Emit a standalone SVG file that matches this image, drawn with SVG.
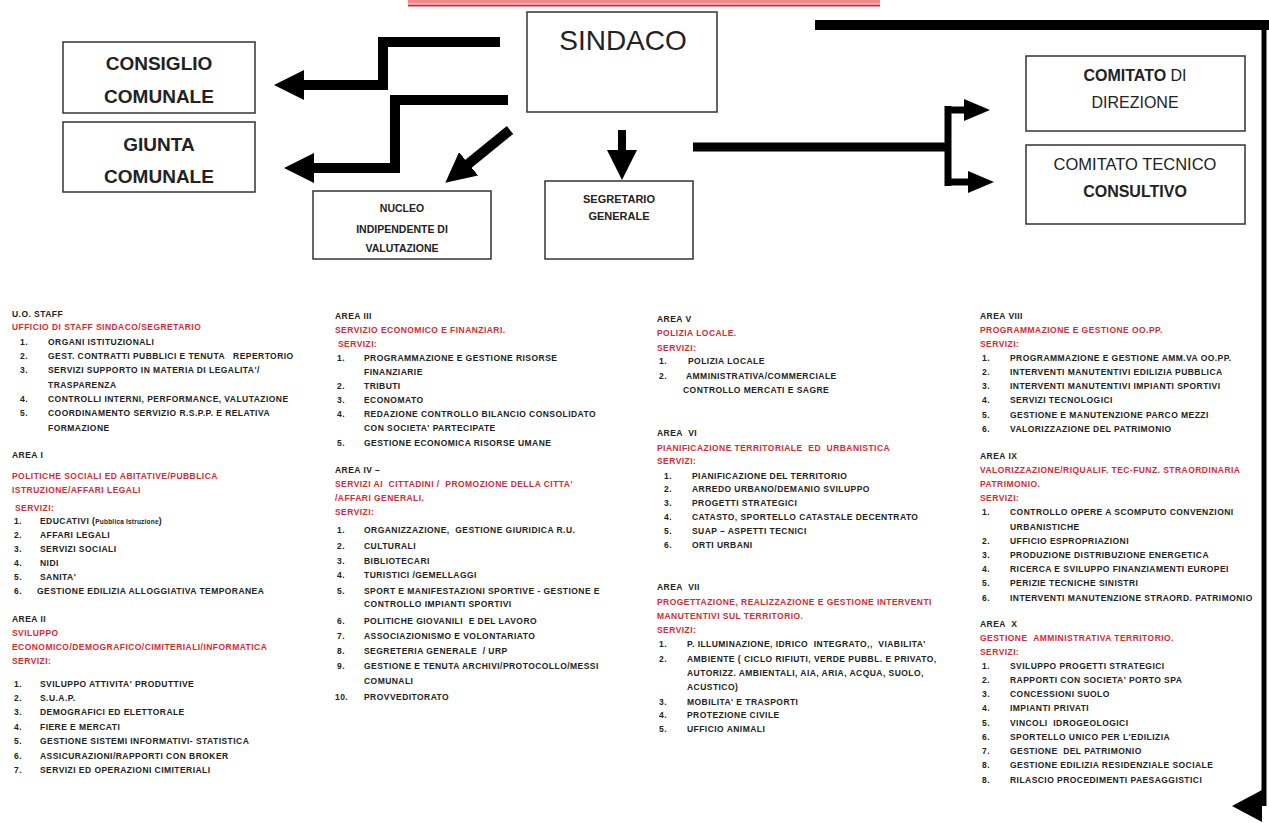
<svg xmlns="http://www.w3.org/2000/svg" width="1269" height="823" viewBox="0 0 1269 823">
<style>
.box{fill:#fff;stroke:#333;stroke-width:1.5}
.big{font-family:"Liberation Sans",Arial,sans-serif;fill:#222}
.t{font-family:"Liberation Sans",Arial,sans-serif;font-weight:bold;font-size:8.5px;letter-spacing:0.45px;fill:#222}
.r{fill:#e3262e}
.ln{fill:none;stroke:#000;stroke-linejoin:miter}
</style>
<defs>
<marker id="ah" markerUnits="userSpaceOnUse" viewBox="0 0 30 30" markerWidth="30" markerHeight="30" refX="2" refY="15" orient="auto">
<path d="M0,0 L30,15 L0,30 z" fill="#000"/>
</marker>
<marker id="ahs" markerUnits="userSpaceOnUse" viewBox="0 0 26 22" markerWidth="26" markerHeight="22" refX="2" refY="11" orient="auto">
<path d="M0,0 L26,11 L0,22 z" fill="#000"/>
</marker>
</defs>
<rect width="1269" height="823" fill="#fff"/>

<g id="title">
<rect x="408" y="0" width="472" height="3.5" fill="#e3262e" opacity="0.55"/>
<line x1="408" y1="5.5" x2="880" y2="5.5" stroke="#e3262e" stroke-width="2"/>
</g>

<g id="connectors">
<polyline class="ln" stroke-width="10" points="500,42 383,42 383,85 302,85" marker-end="url(#ah)"/>
<polyline class="ln" stroke-width="10" points="508,100 395,100 395,168 312,168" marker-end="url(#ah)"/>
<line class="ln" stroke-width="10" x1="510" y1="130" x2="467" y2="165" marker-end="url(#ah)"/>
<line class="ln" stroke-width="8" x1="622" y1="130" x2="622" y2="152" marker-end="url(#ah)"/>
<line class="ln" stroke-width="9" x1="693" y1="147" x2="950" y2="147"/>
<line class="ln" stroke-width="7" x1="948" y1="106" x2="948" y2="186"/>
<polyline class="ln" stroke-width="7" points="945,110 966,110" marker-end="url(#ahs)"/>
<polyline class="ln" stroke-width="7" points="945,182 970,182" marker-end="url(#ahs)"/>
<line class="ln" stroke-width="10" x1="815" y1="25" x2="1269" y2="25"/>
<line class="ln" stroke-width="5" x1="1264" y1="20" x2="1264" y2="806"/>
<polygon points="1232,806 1262,790 1262,822" fill="#000"/>
</g>

<g id="sindaco">
<rect class="box" x="527" y="12" width="190" height="100"/>
<text class="big" x="623" y="50" font-size="28" text-anchor="middle">SINDACO</text>
</g>
<g id="consiglio">
<rect class="box" x="63" y="42" width="192" height="71"/>
<text class="big" x="159" y="70" font-size="19" font-weight="bold" text-anchor="middle">CONSIGLIO</text>
<text class="big" x="159" y="103" font-size="19" font-weight="bold" text-anchor="middle">COMUNALE</text>
</g>
<g id="giunta">
<rect class="box" x="63" y="122" width="192" height="70"/>
<text class="big" x="159" y="151" font-size="19" font-weight="bold" text-anchor="middle">GIUNTA</text>
<text class="big" x="159" y="183" font-size="19" font-weight="bold" text-anchor="middle">COMUNALE</text>
</g>
<g id="nucleo">
<rect class="box" x="313" y="191" width="178" height="68"/>
<text class="big" x="402" y="212" font-size="10.5" font-weight="bold" text-anchor="middle">NUCLEO</text>
<text class="big" x="402" y="233" font-size="10.5" font-weight="bold" text-anchor="middle">INDIPENDENTE DI</text>
<text class="big" x="402" y="252" font-size="10.5" font-weight="bold" text-anchor="middle">VALUTAZIONE</text>
</g>
<g id="segretario">
<rect class="box" x="545" y="181" width="148" height="78"/>
<text class="big" x="619" y="203" font-size="11" font-weight="bold" text-anchor="middle">SEGRETARIO</text>
<text class="big" x="619" y="220" font-size="11" font-weight="bold" text-anchor="middle">GENERALE</text>
</g>
<g id="comitato-direzione">
<rect class="box" x="1026" y="56" width="219" height="75"/>
<text class="big" x="1135" y="81" font-size="16" text-anchor="middle"><tspan font-weight="bold">COMITATO</tspan> DI</text>
<text class="big" x="1135" y="108" font-size="16" text-anchor="middle">DIREZIONE</text>
</g>
<g id="comitato-tecnico">
<rect class="box" x="1026" y="145" width="219" height="79"/>
<text class="big" x="1135" y="170" font-size="16.5" text-anchor="middle">COMITATO TECNICO</text>
<text class="big" x="1135" y="197" font-size="16" font-weight="bold" text-anchor="middle">CONSULTIVO</text>
</g>

<g id="uo-staff" class="t">
<text x="12" y="317">U.O. STAFF</text>
<text x="12" y="330" class="r">UFFICIO DI STAFF SINDACO/SEGRETARIO</text>
<text x="20" y="345">1.</text><text x="48" y="345">ORGANI ISTITUZIONALI</text>
<text x="20" y="359">2.</text><text x="48" y="359">GEST. CONTRATTI PUBBLICI E TENUTA &#160; REPERTORIO</text>
<text x="20" y="373">3.</text><text x="48" y="373">SERVIZI SUPPORTO IN MATERIA DI LEGALITA'/</text>
<text x="48" y="388">TRASPARENZA</text>
<text x="20" y="402">4.</text><text x="48" y="402">CONTROLLI INTERNI, PERFORMANCE, VALUTAZIONE</text>
<text x="20" y="416">5.</text><text x="48" y="416">COORDINAMENTO SERVIZIO R.S.P.P. E RELATIVA</text>
<text x="48" y="431">FORMAZIONE</text>
</g>
<g id="area-1" class="t">
<text x="12" y="458">AREA I</text>
<text x="12" y="479" class="r">POLITICHE SOCIALI ED ABITATIVE/PUBBLICA</text>
<text x="12" y="493" class="r">ISTRUZIONE/AFFARI LEGALI</text>
<text x="15" y="511" class="r">SERVIZI:</text>
<text x="14" y="524">1.</text><text x="40" y="524">EDUCATIVI (<tspan font-size="6.5" letter-spacing="0.2">Pubblica Istruzione</tspan>)</text>
<text x="14" y="538">2.</text><text x="40" y="538">AFFARI LEGALI</text>
<text x="14" y="552">3.</text><text x="40" y="552">SERVIZI SOCIALI</text>
<text x="14" y="566">4.</text><text x="40" y="566">NIDI</text>
<text x="14" y="580">5.</text><text x="40" y="580">SANITA'</text>
<text x="14" y="594">6.</text><text x="37" y="594">GESTIONE EDILIZIA ALLOGGIATIVA TEMPORANEA</text>
</g>
<g id="area-2" class="t">
<text x="12" y="622">AREA II</text>
<text x="12" y="636" class="r">SVILUPPO</text>
<text x="12" y="650" class="r">ECONOMICO/DEMOGRAFICO/CIMITERIALI/INFORMATICA</text>
<text x="12" y="664" class="r">SERVIZI:</text>
<text x="14" y="687">1.</text><text x="40" y="687">SVILUPPO ATTIVITA' PRODUTTIVE</text>
<text x="14" y="701">2.</text><text x="40" y="701">S.U.A.P.</text>
<text x="14" y="715">3.</text><text x="40" y="715">DEMOGRAFICI ED ELETTORALE</text>
<text x="14" y="730">4.</text><text x="40" y="730">FIERE E MERCATI</text>
<text x="14" y="744">5.</text><text x="40" y="744">GESTIONE SISTEMI INFORMATIVI- STATISTICA</text>
<text x="14" y="759">6.</text><text x="40" y="759">ASSICURAZIONI/RAPPORTI CON BROKER</text>
<text x="14" y="773">7.</text><text x="40" y="773">SERVIZI ED OPERAZIONI CIMITERIALI</text>
</g>

<g id="area-3" class="t">
<text x="335" y="319">AREA III</text>
<text x="335" y="333" class="r">SERVIZIO ECONOMICO E FINANZIARI.</text>
<text x="338" y="347" class="r">SERVIZI:</text>
<text x="337" y="361">1.</text><text x="364" y="361">PROGRAMMAZIONE E GESTIONE RISORSE</text>
<text x="364" y="375">FINANZIARIE</text>
<text x="337" y="389">2.</text><text x="364" y="389">TRIBUTI</text>
<text x="337" y="403">3.</text><text x="364" y="403">ECONOMATO</text>
<text x="337" y="417">4.</text><text x="364" y="417">REDAZIONE CONTROLLO BILANCIO CONSOLIDATO</text>
<text x="364" y="431">CON SOCIETA' PARTECIPATE</text>
<text x="337" y="446">5.</text><text x="364" y="446">GESTIONE ECONOMICA RISORSE UMANE</text>
</g>
<g id="area-4" class="t">
<text x="335" y="473">AREA IV –</text>
<text x="335" y="487" class="r">SERVIZI AI &#160;CITTADINI / &#160;PROMOZIONE DELLA CITTA'</text>
<text x="335" y="501" class="r">/AFFARI GENERALI.</text>
<text x="335" y="515" class="r">SERVIZI:</text>
<text x="337" y="533">1.</text><text x="364" y="533">ORGANIZZAZIONE, &#160;GESTIONE GIURIDICA R.U.</text>
<text x="337" y="549">2.</text><text x="364" y="549">CULTURALI</text>
<text x="337" y="564">3.</text><text x="364" y="564">BIBLIOTECARI</text>
<text x="337" y="578">4.</text><text x="364" y="578">TURISTICI /GEMELLAGGI</text>
<text x="337" y="594">5.</text><text x="364" y="594">SPORT E MANIFESTAZIONI SPORTIVE - GESTIONE E</text>
<text x="364" y="607">CONTROLLO IMPIANTI SPORTIVI</text>
<text x="337" y="624">6.</text><text x="364" y="624">POLITICHE GIOVANILI &#160;E DEL LAVORO</text>
<text x="337" y="639">7.</text><text x="364" y="639">ASSOCIAZIONISMO E VOLONTARIATO</text>
<text x="337" y="654">8.</text><text x="364" y="654">SEGRETERIA GENERALE &#160;/ URP</text>
<text x="337" y="669">9.</text><text x="364" y="669">GESTIONE E TENUTA ARCHIVI/PROTOCOLLO/MESSI</text>
<text x="364" y="684">COMUNALI</text>
<text x="335" y="700">10.</text><text x="364" y="700">PROVVEDITORATO</text>
</g>

<g id="area-5" class="t">
<text x="657" y="322">AREA V</text>
<text x="657" y="336" class="r">POLIZIA LOCALE.</text>
<text x="657" y="351" class="r">SERVIZI:</text>
<text x="659" y="364">1.</text><text x="688" y="364">POLIZIA LOCALE</text>
<text x="659" y="379">2.</text><text x="686" y="379">AMMINISTRATIVA/COMMERCIALE</text>
<text x="683" y="393">CONTROLLO MERCATI E SAGRE</text>
</g>
<g id="area-6" class="t">
<text x="657" y="436">AREA &#160;VI</text>
<text x="657" y="451" class="r">PIANIFICAZIONE TERRITORIALE &#160;ED &#160;URBANISTICA</text>
<text x="657" y="464" class="r">SERVIZI:</text>
<text x="664" y="479">1.</text><text x="692" y="479">PIANIFICAZIONE DEL TERRITORIO</text>
<text x="664" y="492">2.</text><text x="692" y="492">ARREDO URBANO/DEMANIO SVILUPPO</text>
<text x="664" y="506">3.</text><text x="692" y="506">PROGETTI STRATEGICI</text>
<text x="664" y="520">4.</text><text x="692" y="520">CATASTO, SPORTELLO CATASTALE DECENTRATO</text>
<text x="664" y="534">5.</text><text x="692" y="534">SUAP – ASPETTI TECNICI</text>
<text x="664" y="548">6.</text><text x="692" y="548">ORTI URBANI</text>
</g>
<g id="area-7" class="t">
<text x="657" y="590">AREA &#160;VII</text>
<text x="657" y="605" class="r">PROGETTAZIONE, REALIZZAZIONE E GESTIONE INTERVENTI</text>
<text x="657" y="619" class="r">MANUTENTIVI SUL TERRITORIO.</text>
<text x="657" y="633" class="r">SERVIZI:</text>
<text x="659" y="647">1.</text><text x="687" y="647">P. ILLUMINAZIONE, IDRICO &#160;INTEGRATO,, &#160;VIABILITA'</text>
<text x="659" y="662">2.</text><text x="687" y="662">AMBIENTE ( CICLO RIFIUTI, VERDE PUBBL. E PRIVATO,</text>
<text x="687" y="676">AUTORIZZ. AMBIENTALI, AIA, ARIA, ACQUA, SUOLO,</text>
<text x="687" y="690">ACUSTICO)</text>
<text x="659" y="705">3.</text><text x="687" y="705">MOBILITA' E TRASPORTI</text>
<text x="659" y="718">4.</text><text x="687" y="718">PROTEZIONE CIVILE</text>
<text x="659" y="732">5.</text><text x="687" y="732">UFFICIO ANIMALI</text>
</g>

<g id="area-8" class="t">
<text x="980" y="319">AREA VIII</text>
<text x="980" y="333" class="r">PROGRAMMAZIONE E GESTIONE OO.PP.</text>
<text x="980" y="347" class="r">SERVIZI:</text>
<text x="982" y="361">1.</text><text x="1010" y="361">PROGRAMMAZIONE E GESTIONE AMM.VA OO.PP.</text>
<text x="982" y="375">2.</text><text x="1010" y="375">INTERVENTI MANUTENTIVI EDILIZIA PUBBLICA</text>
<text x="982" y="389">3.</text><text x="1010" y="389">INTERVENTI MANUTENTIVI IMPIANTI SPORTIVI</text>
<text x="982" y="403">4.</text><text x="1010" y="403">SERVIZI TECNOLOGICI</text>
<text x="982" y="418">5.</text><text x="1010" y="418">GESTIONE E MANUTENZIONE PARCO MEZZI</text>
<text x="982" y="432">6.</text><text x="1010" y="432">VALORIZZAZIONE DEL PATRIMONIO</text>
</g>
<g id="area-9" class="t">
<text x="980" y="459">AREA IX</text>
<text x="980" y="473" class="r">VALORIZZAZIONE/RIQUALIF. TEC-FUNZ. STRAORDINARIA</text>
<text x="980" y="487" class="r">PATRIMONIO.</text>
<text x="980" y="501" class="r">SERVIZI:</text>
<text x="982" y="515">1.</text><text x="1010" y="515">CONTROLLO OPERE A SCOMPUTO CONVENZIONI</text>
<text x="1010" y="530">URBANISTICHE</text>
<text x="982" y="544">2.</text><text x="1010" y="544">UFFICIO ESPROPRIAZIONI</text>
<text x="982" y="558">3.</text><text x="1010" y="558">PRODUZIONE DISTRIBUZIONE ENERGETICA</text>
<text x="982" y="572">4.</text><text x="1010" y="572">RICERCA E SVILUPPO FINANZIAMENTI EUROPEI</text>
<text x="982" y="586">5.</text><text x="1010" y="586">PERIZIE TECNICHE SINISTRI</text>
<text x="982" y="601">6.</text><text x="1010" y="601">INTERVENTI MANUTENZIONE STRAORD. PATRIMONIO</text>
</g>
<g id="area-10" class="t">
<text x="980" y="627">AREA &#160;X</text>
<text x="980" y="641" class="r">GESTIONE &#160;AMMINISTRATIVA TERRITORIO.</text>
<text x="980" y="655" class="r">SERVIZI:</text>
<text x="982" y="669">1.</text><text x="1010" y="669">SVILUPPO PROGETTI STRATEGICI</text>
<text x="982" y="683">2.</text><text x="1010" y="683">RAPPORTI CON SOCIETA' PORTO SPA</text>
<text x="982" y="697">3.</text><text x="1010" y="697">CONCESSIONI SUOLO</text>
<text x="982" y="711">4.</text><text x="1010" y="711">IMPIANTI PRIVATI</text>
<text x="982" y="726">5.</text><text x="1010" y="726">VINCOLI &#160;IDROGEOLOGICI</text>
<text x="982" y="740">6.</text><text x="1010" y="740">SPORTELLO UNICO PER L'EDILIZIA</text>
<text x="982" y="754">7.</text><text x="1010" y="754">GESTIONE &#160;DEL PATRIMONIO</text>
<text x="982" y="768">8.</text><text x="1010" y="768">GESTIONE EDILIZIA RESIDENZIALE SOCIALE</text>
<text x="982" y="783">8.</text><text x="1010" y="783">RILASCIO PROCEDIMENTI PAESAGGISTICI</text>
</g>
</svg>
